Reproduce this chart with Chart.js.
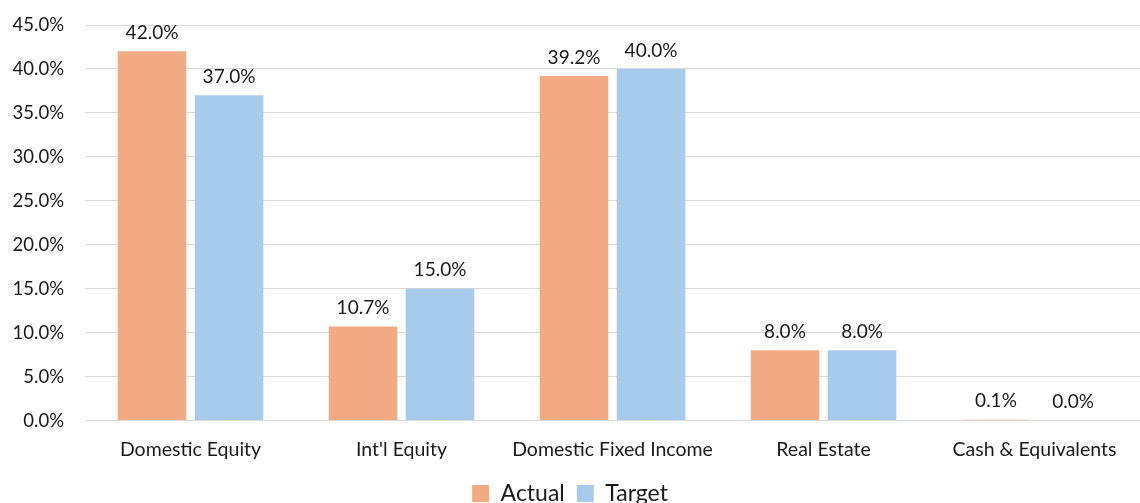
<!DOCTYPE html>
<html>
<head>
<meta charset="utf-8">
<script src="https://cdn.jsdelivr.net/npm/chart.js@4/dist/chart.umd.min.js"></script>
<style>
  html, body { margin: 0; padding: 0; background: #fff; }
  #wrap { width: 1140px; height: 503px; }
</style>
</head>
<body>
<div id="wrap"><canvas id="chart"></canvas></div>
<script>
'use strict'

const categories = ['Domestic Equity', "Int'l Equity", 'Domestic Fixed Income', 'Real Estate', 'Cash & Equivalents']
const actual = [42.0, 10.7, 39.2, 8.0, 0.1]
const target = [37.0, 15.0, 40.0, 8.0, 0.0]

const fontFamily = 'Lato, "Noto Sans", sans-serif'

// value labels over each bar
const barLabels = {
  id: 'barLabels',
  afterDatasetsDraw(chart) {
    const ctx = chart.ctx
    ctx.save()
    ctx.font = '19px ' + fontFamily
    ctx.fillStyle = '#1a1a1a'
    ctx.textAlign = 'center'
    ctx.textBaseline = 'bottom'
    chart.data.datasets.forEach((ds, i) => {
      chart.getDatasetMeta(i).data.forEach((bar, j) => {
        ctx.fillText(ds.data[j].toFixed(1) + '%', bar.x, bar.y - 9)
      })
    })
    ctx.restore()
  },
}

const config = {
  type: 'bar',
  data: {
    labels: categories,
    datasets: [
      { label: 'Actual', data: actual, backgroundColor: '#F2AA84' },
      { label: 'Target', data: target, backgroundColor: '#A8CAEC' },
    ],
  },
  options: {
    responsive: true,
    maintainAspectRatio: false,
    animation: false,
    layout: { padding: { left: 0, right: 0, top: 0, bottom: -12 } },
    datasets: {
      bar: { categoryPercentage: 0.73, barPercentage: 0.89 },
    },
    scales: {
      x: {
        grid: { display: false },
        border: { display: true, color: '#D9D9D9', width: 1 },
        ticks: { color: '#1a1a1a', font: { family: fontFamily, size: 19.5 }, padding: 9 },
      },
      y: {
        min: 0,
        max: 45,
        grid: { color: '#D9D9D9', drawTicks: false },
        border: { display: false },
        afterFit: (scale) => {
          scale.width = 85
          scale.paddingTop = 25
        },
        ticks: {
          stepSize: 5,
          color: '#1a1a1a',
          padding: 21,
          font: { family: fontFamily, size: 18.5 },
          callback: (v) => v.toFixed(1) + '%',
        },
      },
    },
    plugins: {
      tooltip: { enabled: false },
      legend: {
        position: 'bottom',
        labels: {
          color: '#1a1a1a',
          font: { family: fontFamily, size: 23 },
          boxWidth: 17,
          boxHeight: 17,
          padding: 12,
        },
      },
    },
  },
  plugins: [barLabels],
}

const myChart = new Chart(document.getElementById('chart'), config)
</script>
</body>
</html>
